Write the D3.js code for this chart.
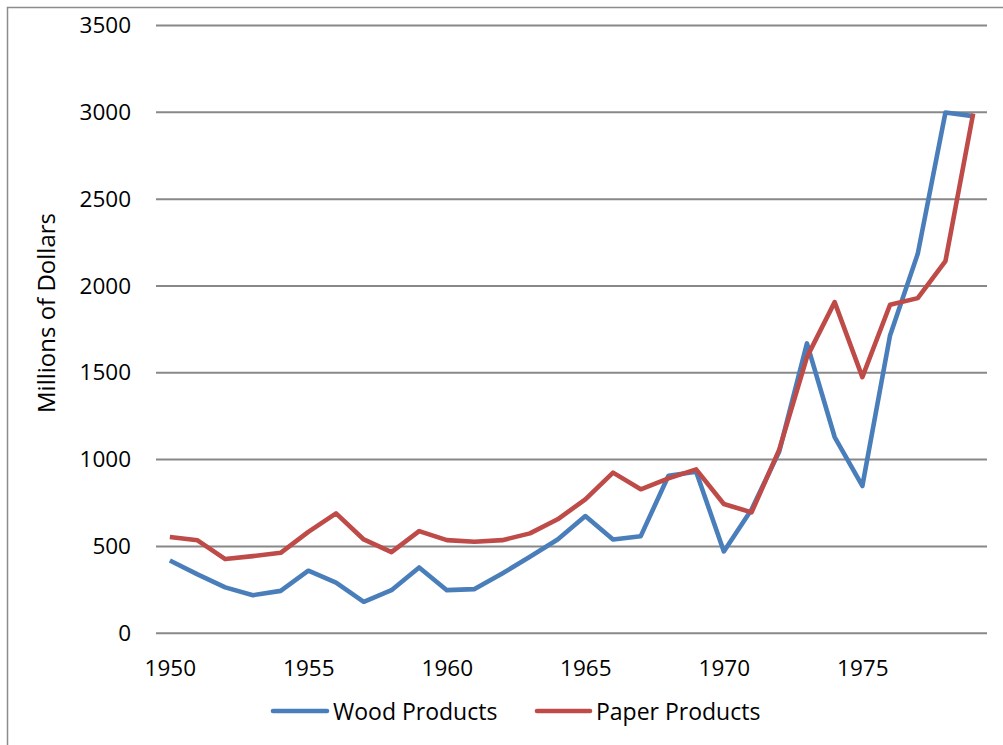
<!DOCTYPE html>
<html>
<head>
<meta charset="utf-8">
<script src="https://cdn.jsdelivr.net/npm/d3@7"></script>
<style>
  html, body { margin: 0; padding: 0; background: #fff; }
  svg { display: block; }
  text { font-family: "Open Sans", "Liberation Sans", sans-serif; fill: #000; }
</style>
</head>
<body>
<svg id="chart" width="1003" height="745"></svg>
<script>
// Shipments by year, millions of dollars
const years = d3.range(1950, 1980);
const woodProducts = [416, 336, 261, 216, 241, 357, 289, 178, 245, 376,
                      245, 251, 341, 437, 537, 672, 537, 556, 904, 927,
                      468, 710, 1044, 1666, 1127, 845, 1712, 2182, 2996, 2975];
const paperProducts = [551, 532, 424, 441, 460, 581, 687, 537, 464, 585,
                       533, 524, 533, 572, 653, 768, 922, 826, 889, 941,
                       741, 693, 1054, 1587, 1904, 1472, 1889, 1927, 2140, 2990];
const yTicks = [0, 500, 1000, 1500, 2000, 2500, 3000, 3500];
const xTickYears = [1950, 1955, 1960, 1965, 1970, 1975];
const seriesNames = ["Wood Products", "Paper Products"];
const seriesColors = ["#4A7EBB", "#BE4B48"];

const svg = d3.select("#chart");
const plot = { left: 156, right: 987, top: 25, bottom: 632.7 };

const x = d3.scalePoint().domain(years).range([plot.left, plot.right]).padding(0.5);
const y = d3.scaleLinear().domain([0, 3500]).range([plot.bottom, plot.top]);

// chart area frame
svg.append("rect")
  .attr("x", 7.5).attr("y", 7.5)
  .attr("width", 1010).attr("height", 760)
  .attr("fill", "none").attr("stroke", "#8c8c8c").attr("stroke-width", 1.5);

// horizontal gridlines and value labels
const yAxis = d3.axisLeft(y).tickValues(yTicks)
  .tickSize(-(plot.right - plot.left)).tickPadding(25).tickFormat(d3.format("d"));
const gy = svg.append("g").attr("transform", `translate(${plot.left},0)`).call(yAxis);
gy.select(".domain").remove();
gy.selectAll(".tick line").attr("stroke", "#888888").attr("stroke-width", 2);
gy.selectAll(".tick text").attr("font-size", 22.5).attr("fill", "#000").attr("dy", "0.34em");

// year labels
const xAxis = d3.axisBottom(x).tickValues(xTickYears).tickSize(0);
const gx = svg.append("g").attr("transform", `translate(0,${plot.bottom})`).call(xAxis);
gx.select(".domain").remove();
gx.selectAll(".tick text")
  .attr("font-size", 22.5).attr("fill", "#000")
  .attr("dy", null).attr("y", 43.5);

// axis title
svg.append("text")
  .attr("transform", `translate(55,313) rotate(-90)`)
  .attr("text-anchor", "middle")
  .attr("font-size", 24)
  .text("Millions of Dollars");

// series lines
const line = d3.line().x((d, i) => x(years[i])).y(d => y(d));
[woodProducts, paperProducts].forEach((vals, k) => {
  svg.append("path")
    .datum(vals)
    .attr("d", line)
    .attr("fill", "none")
    .attr("stroke", seriesColors[k])
    .attr("stroke-width", 4.6)
    .attr("stroke-linejoin", "round");
});

// legend
const legendItems = [{ x0: 273, x1: 327, tx: 333 }, { x0: 537, x1: 590, tx: 596 }];
legendItems.forEach((it, k) => {
  svg.append("line")
    .attr("x1", it.x0).attr("x2", it.x1)
    .attr("y1", 711).attr("y2", 711)
    .attr("stroke", seriesColors[k]).attr("stroke-width", 4.6)
    .attr("stroke-linecap", "round");
  svg.append("text")
    .attr("x", it.tx).attr("y", 719.5)
    .attr("font-size", 23)
    .text(seriesNames[k]);
});
</script>
</body>
</html>
